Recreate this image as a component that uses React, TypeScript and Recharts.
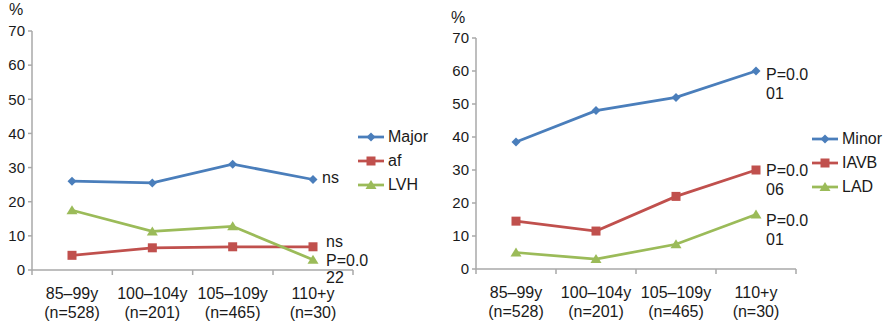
import { LineChart, Line, XAxis, YAxis, Legend, LabelList } from 'recharts'

const categories = ['85–99y', '100–104y', '105–109y', '110+y']
const groupSizes = ['(n=528)', '(n=201)', '(n=465)', '(n=30)']
const yTicks = [0, 10, 20, 30, 40, 50, 60, 70]

// left panel: major abnormalities
const major = [26, 25.5, 31, 26.5]
const af = [4.3, 6.5, 6.8, 6.8]
const lvh = [17.5, 11.3, 12.8, 3]

// right panel: minor abnormalities
const minor = [38.5, 48, 52, 60]
const iavb = [14.5, 11.5, 22, 30]
const lad = [5, 3, 7.5, 16.5]

const majorNote = ['ns']
const afNote = ['ns']
const lvhNote = ['P=0.0', '22']
const minorNote = ['P=0.0', '01']
const iavbNote = ['P=0.0', '06']
const ladNote = ['P=0.0', '01']

const leftOrder = ['major', 'af', 'lvh']
const rightOrder = ['minor', 'iavb', 'lad']

const BLUE = '#4a7ebb'
const RED = '#c0504d'
const GREEN = '#9bbb59'
const AXIS = '#a9a9a9'
const TEXT = '#1a1a1a'
const FONT = '"Liberation Sans", Arial, Helvetica, sans-serif'
const HALF_BAND = 40
const LAST = categories.length - 1

const leftData = categories.map((age, i) => ({ age, major: major[i], af: af[i], lvh: lvh[i] }))
const rightData = categories.map((age, i) => ({ age, minor: minor[i], iavb: iavb[i], lad: lad[i] }))

type Shape = 'diamond' | 'square' | 'triangle'

const shapes: Record<string, Shape> = {
  major: 'diamond', af: 'square', lvh: 'triangle',
  minor: 'diamond', iavb: 'square', lad: 'triangle',
}

function Marker({ shape, cx, cy, color }: { shape: Shape; cx: number; cy: number; color: string }) {
  if (shape === 'diamond') {
    return <polygon points={`${cx},${cy - 4.5} ${cx + 4.5},${cy} ${cx},${cy + 4.5} ${cx - 4.5},${cy}`} fill={color} />
  }
  if (shape === 'square') {
    return <rect x={cx - 4.5} y={cy - 4.5} width={9} height={9} fill={color} />
  }
  return <polygon points={`${cx},${cy - 5} ${cx + 5.5},${cy + 4} ${cx - 5.5},${cy + 4}`} fill={color} />
}

const dotFor = (shape: Shape, color: string) => (p: any) =>
  <Marker key={`dot-${p.index}`} shape={shape} cx={p.cx} cy={p.cy} color={color} />

function AgeTick(props: any) {
  const { x, y, payload, index } = props
  return (
    <g>
      <line x1={x - HALF_BAND} x2={x - HALF_BAND} y1={y} y2={y + 5} stroke={AXIS} strokeWidth={1.5} />
      {index === LAST && (
        <line x1={x + HALF_BAND} x2={x + HALF_BAND} y1={y} y2={y + 5} stroke={AXIS} strokeWidth={1.5} />
      )}
      <text x={x} y={y + 29} textAnchor="middle" fontSize={16} fill={TEXT} fontFamily={FONT}>
        {payload.value}
      </text>
      <text x={x} y={y + 48} textAnchor="middle" fontSize={16} fill={TEXT} fontFamily={FONT}>
        {groupSizes[index]}
      </text>
    </g>
  )
}

const note = (lines: string[], dx: number, dy: number, gap: number) => (props: any) => {
  if (props.index !== LAST) return null
  const x = (props.x ?? props.viewBox?.x) + dx
  const y = (props.y ?? props.viewBox?.y) + dy
  return (
    <text x={x} y={y} fontSize={16} fill={TEXT} fontFamily={FONT}>
      {lines.map((l, i) => (
        <tspan key={i} x={x} dy={i === 0 ? 0 : gap}>{l}</tspan>
      ))}
    </text>
  )
}

function LegendBox({ payload, order }: any) {
  const items = [...(payload ?? [])].sort(
    (a: any, b: any) => order.indexOf(a.dataKey) - order.indexOf(b.dataKey),
  )
  return (
    <div style={{ fontFamily: FONT, fontSize: 16, color: TEXT }}>
      {items.map((item: any) => (
        <div key={item.value} style={{ display: 'flex', alignItems: 'center', height: 24 }}>
          <svg width={30} height={14}>
            <line x1={0} x2={26} y1={7} y2={7} stroke={item.color} strokeWidth={2.75} />
            <Marker shape={shapes[item.dataKey]} cx={13} cy={7} color={item.color} />
          </svg>
          <span>{item.value}</span>
        </div>
      ))}
    </div>
  )
}

const yAxisProps = {
  type: 'number' as const,
  domain: [0, 70],
  ticks: yTicks,
  interval: 0 as const,
  tickSize: 4,
  tickMargin: 3,
  stroke: AXIS,
  strokeWidth: 1.5,
  tick: { fontSize: 15, fill: TEXT, fontFamily: FONT },
}

const xAxisProps = {
  dataKey: 'age',
  padding: { left: HALF_BAND, right: HALF_BAND },
  tickLine: false,
  tickSize: 0,
  tickMargin: 0,
  interval: 0 as const,
  stroke: AXIS,
  strokeWidth: 1.5,
  tick: (p: any) => <AgeTick {...p} />,
}

export default function App() {
  return (
    <div style={{ position: 'absolute', left: 0, top: 0, width: 886, height: 324, display: 'flex', background: '#fff' }}>
      <LineChart width={440} height={324} data={leftData} margin={{ top: 31, right: 87, bottom: 0, left: 0 }}>
        <XAxis {...xAxisProps} height={54} />
        <YAxis {...yAxisProps} width={32}
          label={{ value: '%', position: 'top', offset: 16, fontSize: 16, fill: TEXT, fontFamily: FONT }} />
        <Legend layout="vertical" align="center" verticalAlign="middle"
          wrapperStyle={{ left: 358, top: 125, width: 82 }} content={<LegendBox order={leftOrder} />} />
        <Line dataKey="major" name="Major" stroke={BLUE} strokeWidth={2.75} dot={dotFor('diamond', BLUE)}
          activeDot={false} isAnimationActive={false}>
          <LabelList dataKey="major" content={note(majorNote, 9, 3, 19)} />
        </Line>
        <Line dataKey="af" name="af" stroke={RED} strokeWidth={2.75} dot={dotFor('square', RED)}
          activeDot={false} isAnimationActive={false}>
          <LabelList dataKey="af" content={note(afNote, 13, 0, 19)} />
        </Line>
        <Line dataKey="lvh" name="LVH" stroke={GREEN} strokeWidth={2.75} dot={dotFor('triangle', GREEN)}
          activeDot={false} isAnimationActive={false}>
          <LabelList dataKey="lvh" content={note(lvhNote, 13, 6, 17)} />
        </Line>
      </LineChart>
      <LineChart width={446} height={324} data={rightData} margin={{ top: 38, right: 90, bottom: 0, left: 0 }}>
        <XAxis {...xAxisProps} height={55} />
        <YAxis {...yAxisProps} width={36}
          label={{ value: '%', position: 'top', offset: 15, fontSize: 16, fill: TEXT, fontFamily: FONT }} />
        <Legend layout="vertical" align="center" verticalAlign="middle"
          wrapperStyle={{ left: 372, top: 127, width: 74 }} content={<LegendBox order={rightOrder} />} />
        <Line dataKey="minor" name="Minor" stroke={BLUE} strokeWidth={2.75} dot={dotFor('diamond', BLUE)}
          activeDot={false} isAnimationActive={false}>
          <LabelList dataKey="minor" content={note(minorNote, 10, 9, 19)} />
        </Line>
        <Line dataKey="iavb" name="IAVB" stroke={RED} strokeWidth={2.75} dot={dotFor('square', RED)}
          activeDot={false} isAnimationActive={false}>
          <LabelList dataKey="iavb" content={note(iavbNote, 10, 6, 19)} />
        </Line>
        <Line dataKey="lad" name="LAD" stroke={GREEN} strokeWidth={2.75} dot={dotFor('triangle', GREEN)}
          activeDot={false} isAnimationActive={false}>
          <LabelList dataKey="lad" content={note(ladNote, 10, 11, 19)} />
        </Line>
      </LineChart>
    </div>
  )
}
